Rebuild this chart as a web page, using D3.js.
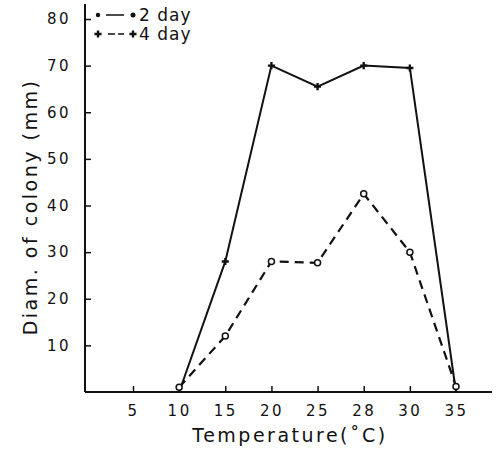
<!DOCTYPE html>
<html>
<head>
<meta charset="utf-8">
<script src="https://cdn.jsdelivr.net/npm/d3@7"></script>
<style>
  body { margin: 0; background: #fff; }
  svg text { font-family: "DejaVu Sans", "Liberation Sans", sans-serif; fill: #111; }
</style>
</head>
<body>
<div id="chart"></div>
<script>
// temperatures (categories, equally spaced on the x axis)
const temps = ["5", "10", "15", "20", "25", "28", "30", "35"];
// colony diameter (mm)
const day2Temps = ["10", "15", "20", "25", "28", "30", "35"];
const day2 = [1, 12, 28, 27.7, 42.5, 30, 1.2];
const day4Temps = ["10", "15", "20", "25", "28", "30", "35"];
const day4 = [0, 28, 70, 65.5, 70, 69.5, 0];
const yTicks = [10, 20, 30, 40, 50, 60, 70, 80];

const width = 496, height = 458;

const svg = d3.select("#chart").append("svg")
    .attr("width", width)
    .attr("height", height);

const x = d3.scalePoint().domain(temps).range([133, 456]);
const y = d3.scaleLinear().domain([0, 80]).range([392, 19]);

// axis lines drawn by hand so they run past the ticks
svg.append("line")
   .attr("x1", 85).attr("x2", 85)
   .attr("y1", 4).attr("y2", y(0))
   .attr("stroke", "#111").attr("stroke-width", 2);
svg.append("line")
   .attr("x1", 85).attr("x2", 492)
   .attr("y1", y(0)).attr("y2", y(0))
   .attr("stroke", "#111").attr("stroke-width", 2);

const yAxis = svg.append("g")
   .attr("transform", "translate(85,0)")
   .call(d3.axisLeft(y).tickValues(yTicks).tickSize(-6).tickPadding(14));
yAxis.select(".domain").remove();
yAxis.selectAll("line").attr("stroke", "#111").attr("stroke-width", 1.5);
yAxis.selectAll("text")
   .style("font-size", "15px")
   .style("letter-spacing", "2.5px");

const xAxis = svg.append("g")
   .attr("transform", `translate(0,${y(0)})`)
   .call(d3.axisBottom(x).tickSize(-6).tickPadding(13));
xAxis.select(".domain").remove();
xAxis.selectAll("line").attr("stroke", "#111").attr("stroke-width", 1.5);
xAxis.selectAll("text")
   .style("font-size", "15px")
   .style("letter-spacing", "2.5px");

// axis titles
svg.append("text")
   .attr("transform", "translate(37,207) rotate(-90)")
   .attr("text-anchor", "middle")
   .style("font-size", "19px")
   .style("letter-spacing", "2.5px")
   .text("Diam. of colony (mm)");

svg.append("text")
   .attr("x", 290)
   .attr("y", 442)
   .attr("text-anchor", "middle")
   .style("font-size", "19px")
   .style("letter-spacing", "2.5px")
   .text("Temperature(˚C)");

// lines
const line = d3.line()
   .x(d => x(d.t))
   .y(d => y(d.v));

const d4 = day4Temps.map((t, i) => ({t: t, v: day4[i]}));
const d2 = day2Temps.map((t, i) => ({t: t, v: day2[i]}));

svg.append("path")
   .datum(d4)
   .attr("fill", "none")
   .attr("stroke", "#111")
   .attr("stroke-width", 2)
   .attr("d", line);

svg.append("path")
   .datum(d2)
   .attr("fill", "none")
   .attr("stroke", "#111")
   .attr("stroke-width", 2.2)
   .attr("stroke-dasharray", "9,6")
   .attr("d", line);

// markers
svg.selectAll(".dot2")
   .data(d2)
   .enter().append("circle")
   .attr("class", "dot2")
   .attr("cx", d => x(d.t))
   .attr("cy", d => y(d.v))
   .attr("r", 3)
   .attr("fill", "#fff")
   .attr("stroke", "#111")
   .attr("stroke-width", 1.5);

const plus = d3.symbol().type(d3.symbolCross).size(28);
svg.selectAll(".dot4")
   .data(d4.filter(d => d.v > 0))
   .enter().append("path")
   .attr("class", "dot4")
   .attr("transform", d => `translate(${x(d.t)},${y(d.v)})`)
   .attr("d", plus)
   .attr("fill", "#111");

// legend
const legend = svg.append("g");
legend.append("circle").attr("cx", 98).attr("cy", 15).attr("r", 2.2).attr("fill", "#111");
legend.append("line").attr("x1", 106).attr("x2", 124).attr("y1", 15).attr("y2", 15)
   .attr("stroke", "#111").attr("stroke-width", 1.5);
legend.append("circle").attr("cx", 133).attr("cy", 15).attr("r", 2.5).attr("fill", "#111");
legend.append("text").attr("x", 139).attr("y", 21)
   .style("font-size", "17px").style("letter-spacing", "1px").text("2 day");

legend.append("path").attr("transform", "translate(98,34)").attr("d", plus).attr("fill", "#111");
legend.append("line").attr("x1", 108).attr("x2", 124).attr("y1", 34).attr("y2", 34)
   .attr("stroke", "#111").attr("stroke-width", 1.5).attr("stroke-dasharray", "7,3");
legend.append("path").attr("transform", "translate(133,34)").attr("d", plus).attr("fill", "#111");
legend.append("text").attr("x", 139).attr("y", 40)
   .style("font-size", "17px").style("letter-spacing", "1px").text("4 day");
</script>
</body>
</html>
